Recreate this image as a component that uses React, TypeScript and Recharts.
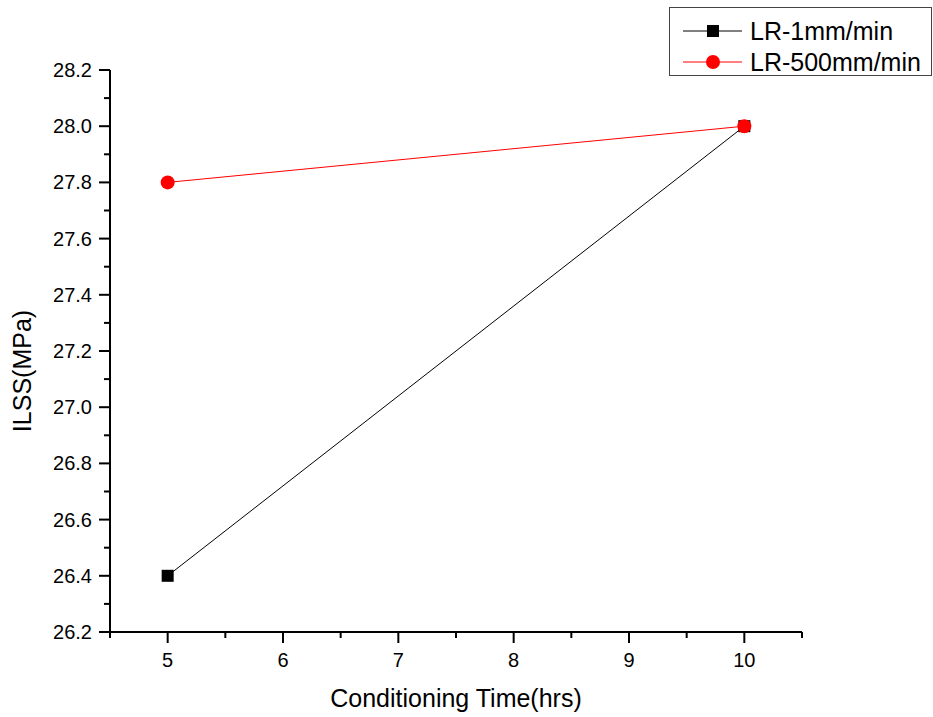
import React from 'react'
import { LineChart, Line, XAxis, YAxis, Legend } from 'recharts'

const times = [5, 10]
const lr1mm = [26.4, 28.0]
const lr500mm = [27.8, 28.0]

const xMajorTicks = [5, 6, 7, 8, 9, 10]
const xMinorTicks = [4.5, 5.5, 6.5, 7.5, 8.5, 9.5, 10.5]
const yMajorTicks = [26.2, 26.4, 26.6, 26.8, 27.0, 27.2, 27.4, 27.6, 27.8, 28.0, 28.2]
const yMinorTicks = [26.3, 26.5, 26.7, 26.9, 27.1, 27.3, 27.5, 27.7, 27.9, 28.1]

const data = times.map((t, i) => ({ t, lr1: lr1mm[i], lr500: lr500mm[i] }))

const FONT = '"Liberation Sans", Arial, sans-serif'

const XTick = (props: any) => {
  const { x, y, payload } = props
  const major = xMajorTicks.includes(payload.value)
  return (
    <g>
      <line x1={x} x2={x} y1={y} y2={y + (major ? 11 : 6)} stroke="#000" strokeWidth={2} />
      {major && (
        <text x={x} y={y + 35} textAnchor="middle" fontSize={20} fontFamily={FONT} fill="#000">
          {payload.value}
        </text>
      )}
    </g>
  )
}

const YTick = (props: any) => {
  const { x, y, payload } = props
  const major = yMajorTicks.some(v => Math.abs(v - payload.value) < 1e-6)
  return (
    <g>
      <line x1={x} x2={x - (major ? 11 : 6)} y1={y} y2={y} stroke="#000" strokeWidth={2} />
      {major && (
        <text x={x - 18} y={y + 7} textAnchor="end" fontSize={20} fontFamily={FONT} fill="#000">
          {payload.value.toFixed(1)}
        </text>
      )}
    </g>
  )
}

const SquareDot = (props: any) => {
  const { cx, cy, index } = props
  return <rect key={`sq-${index}`} x={cx - 6} y={cy - 6} width={12} height={12} fill="#000" />
}

const CircleDot = (props: any) => {
  const { cx, cy, index } = props
  return <circle key={`ci-${index}`} cx={cx} cy={cy} r={7} fill="#ff0000" />
}

const LegendBox = () => (
  <div
    style={{
      border: '1px solid #444',
      background: '#fff',
      width: 261,
      height: 67,
      boxSizing: 'content-box',
      fontFamily: FONT,
      fontSize: 25,
      position: 'relative',
    }}
  >
    {[
      { label: 'LR-1mm/min', color: '#000', shape: 'square' },
      { label: 'LR-500mm/min', color: '#ff0000', shape: 'circle' },
    ].map((item, i) => (
      <div key={item.label} style={{ position: 'absolute', left: 0, top: 8 + i * 31, height: 30, display: 'flex', alignItems: 'center' }}>
        <svg width={80} height={30} style={{ display: 'block' }}>
          <line x1={13} x2={72} y1={15} y2={15} stroke={item.color} strokeWidth={1} />
          {item.shape === 'square' ? (
            <rect x={37} y={9} width={12} height={12} fill={item.color} />
          ) : (
            <circle cx={43} cy={15} r={7} fill={item.color} />
          )}
        </svg>
        <span style={{ color: '#000', lineHeight: '30px' }}>{item.label}</span>
      </div>
    ))}
  </div>
)

export default function App() {
  return (
    <div style={{ position: 'absolute', left: 0, top: 0, width: 933, height: 717, background: '#fff' }}>
      <LineChart width={933} height={717} data={data} margin={{ top: 70, right: 131, bottom: 0, left: 0 }}>
        <XAxis
          dataKey="t"
          type="number"
          domain={[4.5, 10.5]}
          ticks={[...xMinorTicks, ...xMajorTicks].sort((a, b) => a - b)}
          interval={0}
          height={85}
          tickSize={0}
          tickMargin={0}
          tick={<XTick />}
          axisLine={{ stroke: '#000', strokeWidth: 2 }}
          label={{
            value: 'Conditioning Time(hrs)',
            position: 'insideBottom',
            offset: 10,
            style: { fontSize: 25, fontFamily: FONT, fill: '#000' },
          }}
        />
        <YAxis
          type="number"
          domain={[26.2, 28.2]}
          ticks={[...yMinorTicks, ...yMajorTicks].sort((a, b) => a - b)}
          interval={0}
          width={110}
          tickSize={0}
          tickMargin={0}
          tick={<YTick />}
          axisLine={{ stroke: '#000', strokeWidth: 2 }}
          label={{
            value: 'ILSS(MPa)',
            angle: -90,
            position: 'insideLeft',
            offset: 22,
            dy: 20,
            style: { fontSize: 25, fontFamily: FONT, fill: '#000', textAnchor: 'middle' },
          }}
        />
        <Legend
          layout="horizontal"
          verticalAlign="middle"
          align="center"
          content={<LegendBox />}
          wrapperStyle={{ left: 669, top: 7, width: 263, height: 69 }}
        />
        <Line
          dataKey="lr1"
          name="LR-1mm/min"
          stroke="#000"
          strokeWidth={1}
          dot={<SquareDot />}
          activeDot={false}
          isAnimationActive={false}
        />
        <Line
          dataKey="lr500"
          name="LR-500mm/min"
          stroke="#ff0000"
          strokeWidth={1}
          dot={<CircleDot />}
          activeDot={false}
          isAnimationActive={false}
        />
      </LineChart>
    </div>
  )
}
